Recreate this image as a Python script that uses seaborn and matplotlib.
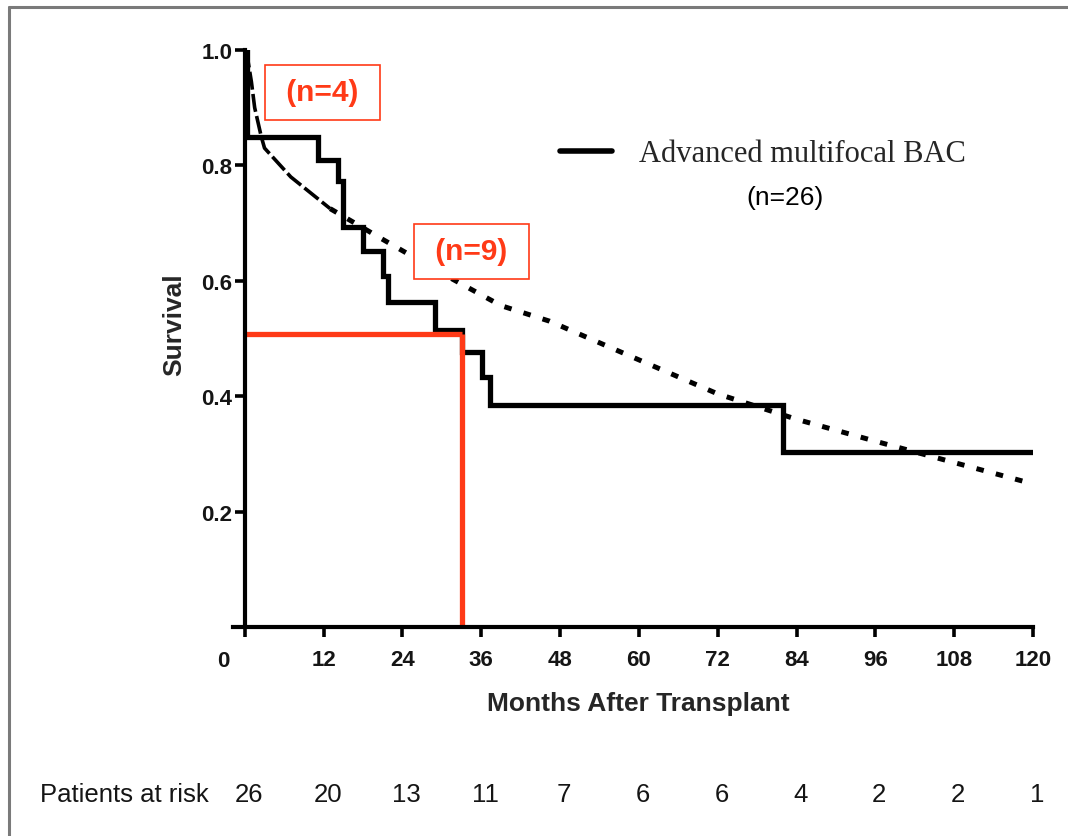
import matplotlib
matplotlib.use("Agg")
import matplotlib.pyplot as plt
from matplotlib.lines import Line2D
import matplotlib.transforms as mtransforms
import numpy as np
import pandas as pd
import seaborn as sns

# ---------------- data ----------------
km_months = [0, 0.3, 11.1, 14.2, 14.9, 18.0, 21.0, 21.8, 28.9, 33.0, 36.1, 37.3, 81.9, 120]
km_surv = [1.0, 0.849, 0.809, 0.773, 0.694, 0.651, 0.609, 0.564, 0.514, 0.477, 0.434, 0.384, 0.304, 0.304]

fit_months = [0, 0.5, 1.0, 1.5, 2.5, 3.0, 7.0, 13.0, 20.5, 30.0, 39.0, 46.4, 60, 72, 84, 96, 108, 120]
fit_surv = [1.0, 0.98, 0.945, 0.90, 0.85, 0.83, 0.78, 0.725, 0.675, 0.613, 0.557, 0.53, 0.463, 0.404, 0.36, 0.322, 0.285, 0.248]

median_month = 33.0
median_surv = 0.507

x_ticks = [0, 12, 24, 36, 48, 60, 72, 84, 96, 108, 120]
y_ticks = [0.2, 0.4, 0.6, 0.8, 1.0]
at_risk = [26, 20, 13, 11, 7, 6, 6, 4, 2, 2, 1]

series_label = "Advanced multifocal BAC"
n_label = "(n=26)"
box_labels = ["(n=4)", "(n=9)"]
box_pos = [(11.8, 0.927), (34.5, 0.651)]

RED = "#FF3A17"

# ---------------- figure ----------------
sns.set_theme(style="white")
plt.rcParams["font.family"] = ["Liberation Sans", "DejaVu Sans"]

fig = plt.figure(figsize=(10.68, 8.37), dpi=100)
ax = fig.add_axes([233 / 1068, 209 / 837, 800 / 1068, 577 / 837])

km_df = pd.DataFrame({"month": km_months, "surv": km_surv})
fit_df = pd.DataFrame({"month": fit_months, "surv": fit_surv})
early = fit_df[fit_df["month"] <= 13.0]
late = fit_df[fit_df["month"] >= 13.0]

sns.lineplot(data=early, x="month", y="surv", ax=ax, color="black", lw=2.6,
             linestyle=(0, (5, 1.2)), estimator=None, sort=False)
sns.lineplot(data=late, x="month", y="surv", ax=ax, color="black", lw=3.6,
             linestyle=(0, (1.5, 2.5)), estimator=None, sort=False,
             dash_capstyle="butt")

sns.lineplot(data=km_df, x="month", y="surv", ax=ax, color="black", lw=3.8,
             drawstyle="steps-post", estimator=None, sort=False,
             label=series_label, solid_joinstyle="miter")

# median reference lines
ax.plot([0, median_month], [median_surv, median_surv], color=RED, lw=3.8,
        solid_capstyle="butt")
ax.plot([median_month, median_month], [median_surv, 0], color=RED, lw=3.8,
        solid_capstyle="butt")

# boxed annotations
for lab, (bx, by) in zip(box_labels, box_pos):
    ax.text(bx, by, "\u00a0" + lab + "\u00a0", color=RED, fontsize=21.5, fontweight="bold",
            ha="center", va="center",
            bbox=dict(boxstyle="square,pad=0.45", fc="white", ec=RED, lw=1.2))

# axes
ax.set_xlim(-1.8, 120)
ax.set_ylim(0, 1.0)
ax.spines["left"].set_position(("data", 0))
for s in ["top", "right"]:
    ax.spines[s].set_visible(False)
for s in ["left", "bottom"]:
    ax.spines[s].set_linewidth(3)
    ax.spines[s].set_color("black")

ax.set_xticks(x_ticks)
ax.set_xticklabels([""] + [str(t) for t in x_ticks[1:]])
ax.set_yticks(y_ticks)
ax.set_yticklabels([f"{t:.1f}" for t in y_ticks])
ax.tick_params(axis="both", direction="out", length=7, width=2.6, color="black",
               labelsize=16, labelcolor="#151515", bottom=True, left=True)
ax.tick_params(axis="x", pad=9)
ax.tick_params(axis="y", pad=2)
for lbl in ax.get_xticklabels() + ax.get_yticklabels():
    lbl.set_fontweight("bold")

# "0" label sits left of the axis origin
trans0 = mtransforms.blended_transform_factory(ax.transData, ax.transAxes)
ax.text(x_ticks[0] - 3.2, -0.058, str(x_ticks[0]), transform=trans0, ha="center",
        va="center", fontsize=16, fontweight="bold", color="#151515")

ax.set_xlabel("Months After Transplant", fontsize=19, fontweight="bold")
ax.set_ylabel("Survival", fontsize=19, fontweight="bold")
ax.xaxis.set_label_coords((638 - 233) / 800, -(692 - 628) / 577)
ax.yaxis.set_label_coords((186 - 233) / 800, (628 - 325) / 577)

# legend
leg = ax.legend(loc="center left", bbox_to_anchor=((560 - 233) / 800, (628 - 155) / 577),
                frameon=False, borderpad=0, borderaxespad=0, handlelength=1.7,
                handletextpad=0.9, prop={"family": "Liberation Serif", "size": 22})
for h in leg.get_lines():
    h.set_linewidth(4)
ax.text((785 - 233) / 800, (628 - 198) / 577, n_label, transform=ax.transAxes,
        ha="center", va="center", fontsize=19, color="black")

# patients at risk row
trans_r = mtransforms.blended_transform_factory(ax.transData, fig.transFigure)
yr = (837 - 795) / 837
fig.text(40 / 1068, yr, "Patients at risk", ha="left", va="center", fontsize=18.5,
         color="#151515")
for t, n in zip(x_ticks, at_risk):
    ax.text(t + 0.6, yr, str(n), transform=trans_r, ha="center", va="center",
            fontsize=18.5, color="#151515")

# outer frame (gray, left and top)
fig.add_artist(Line2D([9 / 1068, 9 / 1068], [0, 1 - 8 / 837], color="#7a7a7a", lw=2.2,
                      transform=fig.transFigure))
fig.add_artist(Line2D([9 / 1068, 1], [1 - 8 / 837, 1 - 8 / 837], color="#7a7a7a", lw=2.2,
                      transform=fig.transFigure))

fig.savefig("out.png", dpi=100)
